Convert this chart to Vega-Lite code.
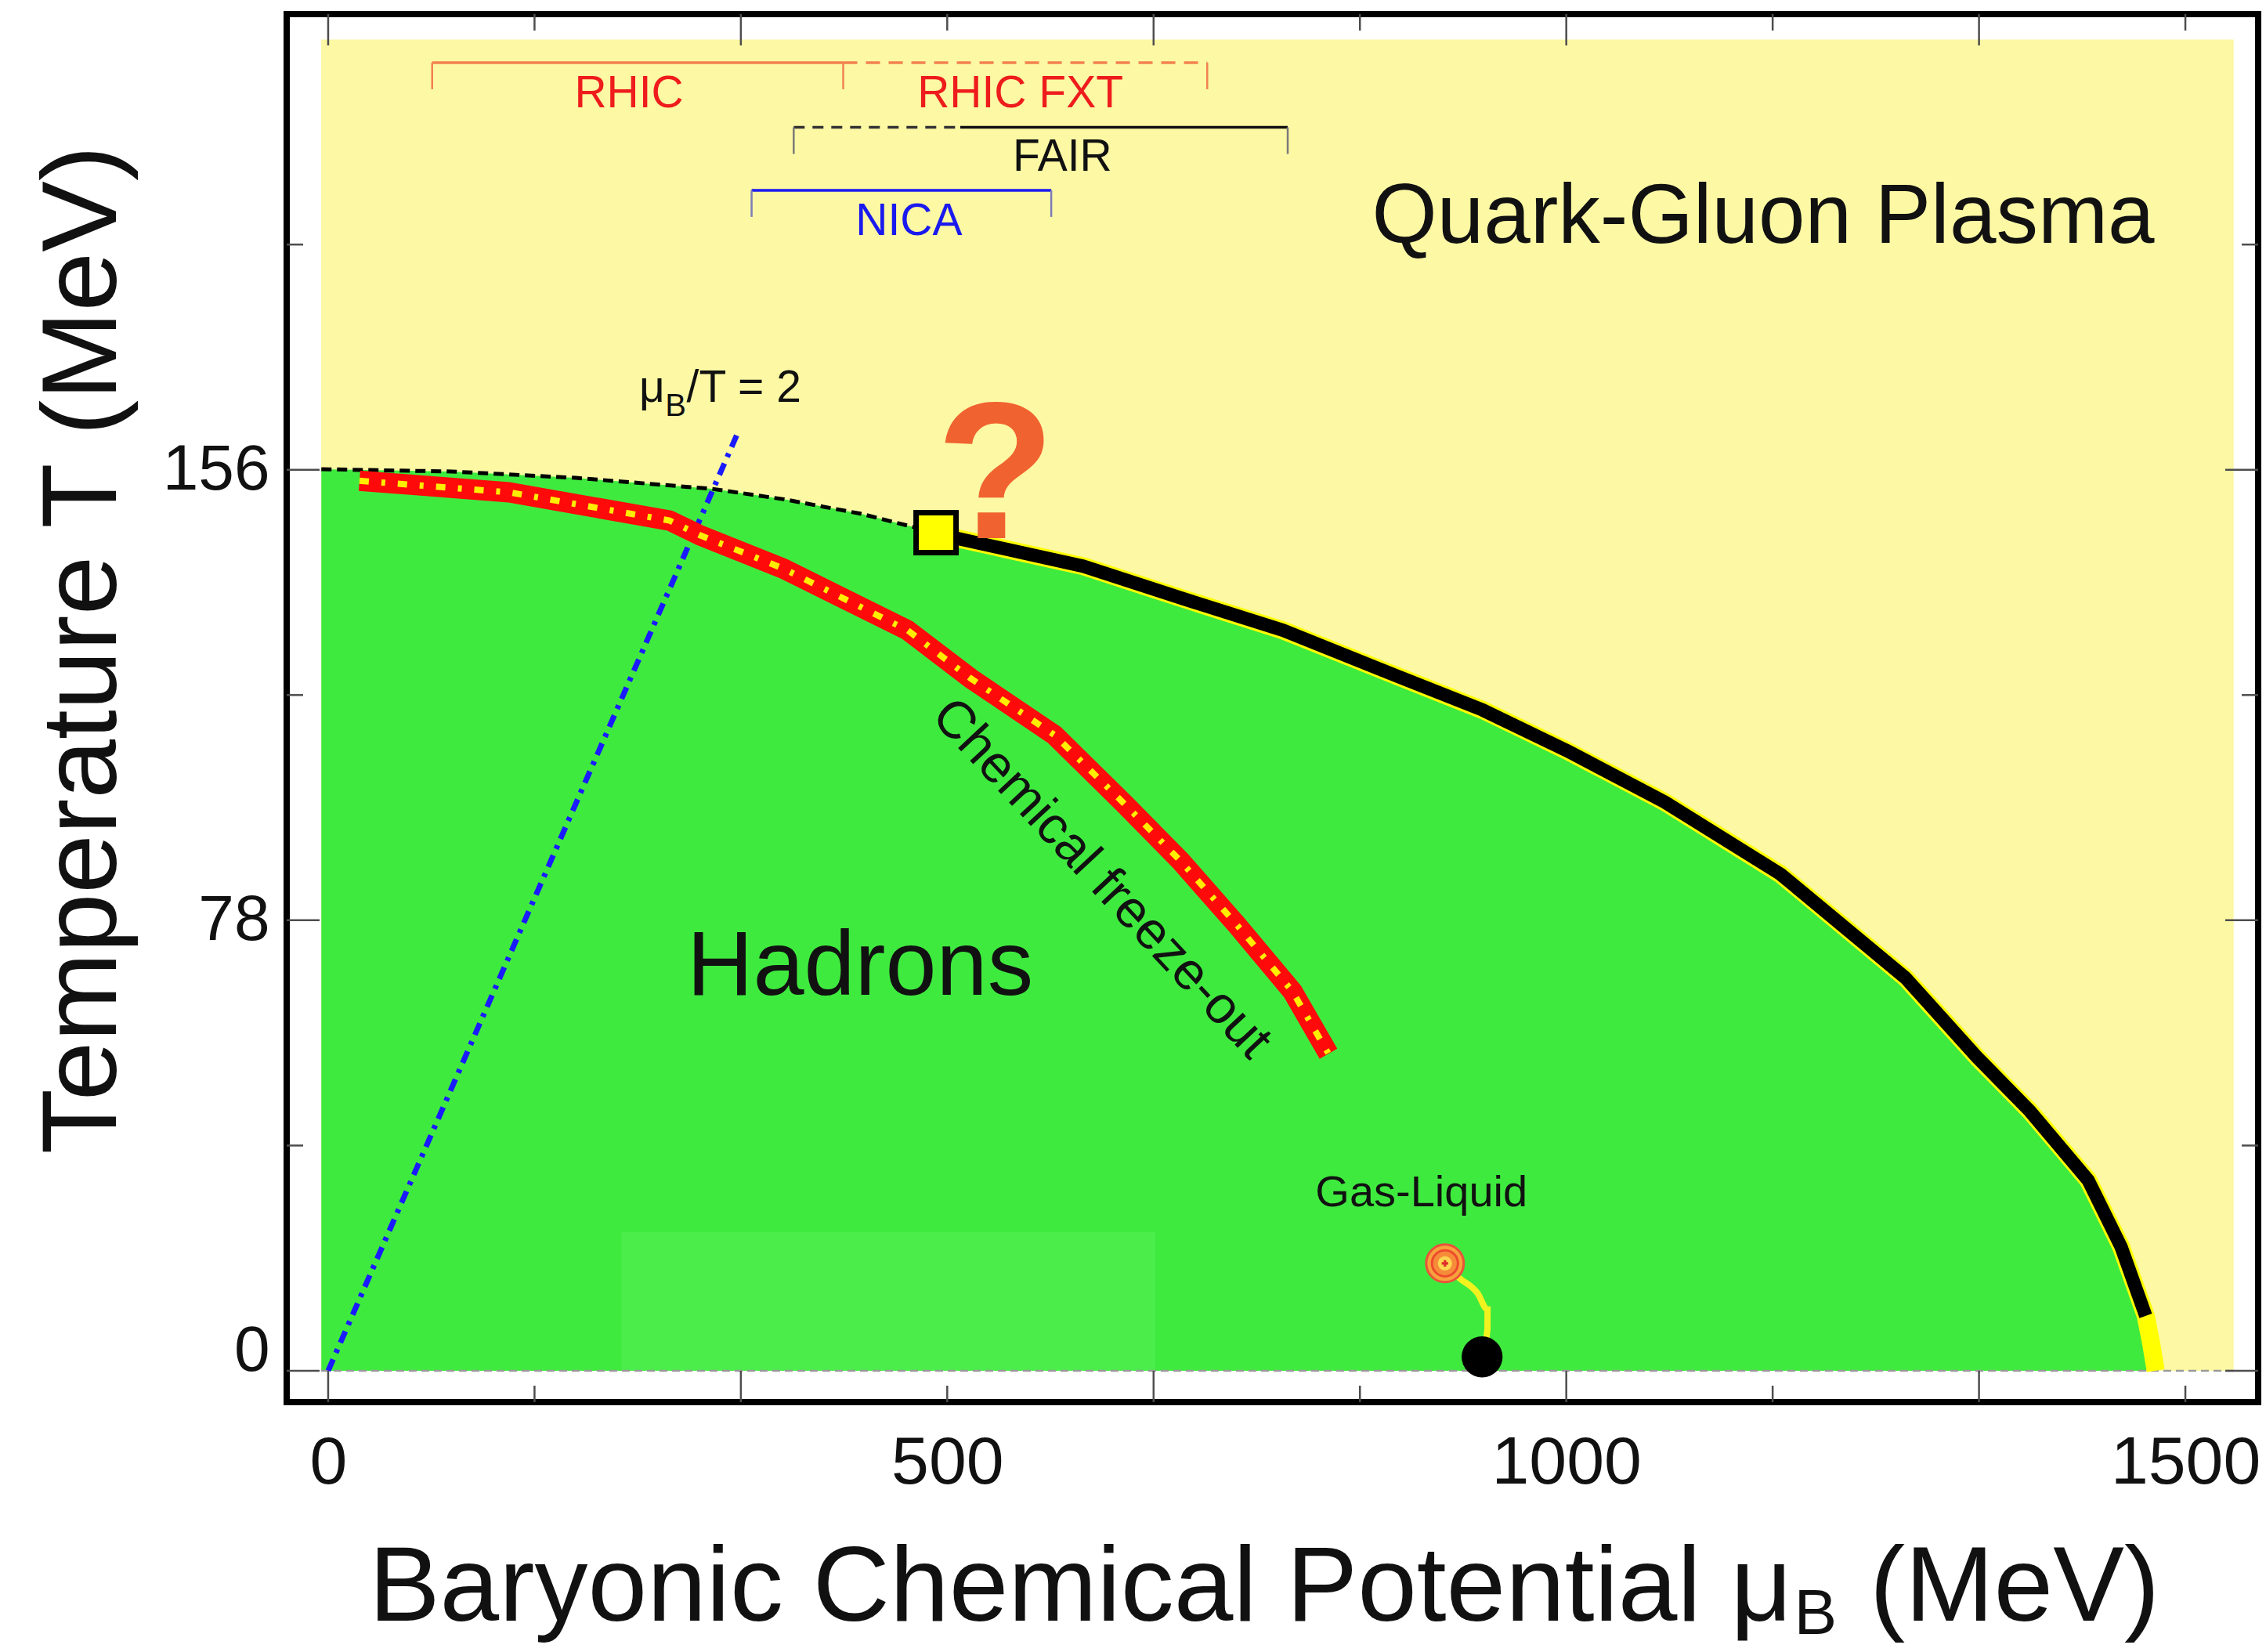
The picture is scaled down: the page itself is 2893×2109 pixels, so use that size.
{
  "$schema": "https://vega.github.io/schema/vega-lite/v6.json",
  "width": 2517,
  "height": 1772,
  "autosize": {"type": "none"},
  "padding": {"left": 366, "top": 18, "right": 10, "bottom": 319},
  "background": "#ffffff",
  "config": {
    "view": {"stroke": "#000000", "strokeWidth": 8},
    "font": "Liberation Sans"
  },
  "resolve": {"scale": {"color": "independent", "strokeDash": "independent", "strokeWidth": "independent"}},
  "datasets": {
    "phaseRegion": [{"phase": "Quark-Gluon Plasma", "mu1": -5.7, "mu2": 1539, "T1": 0, "T2": 230.5}],
    "lightPatch": [{"mu1": 237, "mu2": 668, "T1": 0, "T2": 24}],
    "boundary": [
      {"kind": "crossover", "mu": -5.5, "T": 156.1},
      {"kind": "crossover", "mu": 100, "T": 155.7},
      {"kind": "crossover", "mu": 200, "T": 154.6},
      {"kind": "crossover", "mu": 310, "T": 152.7},
      {"kind": "crossover", "mu": 368, "T": 150.9},
      {"kind": "crossover", "mu": 430, "T": 148.4},
      {"kind": "crossover", "mu": 491, "T": 145.1},
      {"kind": "firstOrder", "mu": 491, "T": 145.1},
      {"kind": "firstOrder", "mu": 508.6, "T": 144.1},
      {"kind": "firstOrder", "mu": 609.9, "T": 139.3},
      {"kind": "firstOrder", "mu": 690.2, "T": 133.7},
      {"kind": "firstOrder", "mu": 771.2, "T": 128.2},
      {"kind": "firstOrder", "mu": 851.5, "T": 121.3},
      {"kind": "firstOrder", "mu": 932.5, "T": 114.4},
      {"kind": "firstOrder", "mu": 1000.2, "T": 107.4},
      {"kind": "firstOrder", "mu": 1079.3, "T": 98.5},
      {"kind": "firstOrder", "mu": 1172.9, "T": 86.0},
      {"kind": "firstOrder", "mu": 1274.1, "T": 68.0},
      {"kind": "firstOrder", "mu": 1331.7, "T": 54.3},
      {"kind": "firstOrder", "mu": 1374.7, "T": 44.9},
      {"kind": "firstOrder", "mu": 1421.5, "T": 33.0},
      {"kind": "firstOrder", "mu": 1448, "T": 21.5},
      {"kind": "firstOrder", "mu": 1468, "T": 9.5},
      {"kind": "end", "mu": 1468, "T": 9.5},
      {"kind": "end", "mu": 1472.5, "T": 4.6},
      {"kind": "end", "mu": 1476, "T": 0}
    ],
    "freezeout": [
      {"mu": 25.3, "T": 154.1},
      {"mu": 146.1, "T": 152.1},
      {"mu": 275.8, "T": 147.2},
      {"mu": 299.9, "T": 144.7},
      {"mu": 367.6, "T": 138.9},
      {"mu": 468.1, "T": 128.2},
      {"mu": 518.8, "T": 119.9},
      {"mu": 586.5, "T": 110.1},
      {"mu": 643.4, "T": 98.1},
      {"mu": 688.3, "T": 88.3},
      {"mu": 733.9, "T": 77.2},
      {"mu": 778.8, "T": 65.7},
      {"mu": 807.9, "T": 54.9}
    ],
    "muOverT2": [{"mu": 0, "T": 0}, {"mu": 330, "T": 162}],
    "zeroLine": [{"mu": -5.7, "T": 0}, {"mu": 1539, "T": 0}],
    "criticalPoint": [{"mu": 491, "T": 145.1}],
    "gasLiquidCP": [{"mu": 902, "T": 18.6}],
    "gasLiquidPath": [
      {"mu": 902, "T": 18.6},
      {"mu": 912.3, "T": 16.3},
      {"mu": 928.4, "T": 13.4},
      {"mu": 936.4, "T": 10.6},
      {"mu": 936.3, "T": 7.2},
      {"mu": 932, "T": 2.4}
    ],
    "nuclearMatter": [{"mu": 932, "T": 2.4}],
    "brackets": [
      {"name": "RHIC", "mu1": 84, "mu2": 416, "T": 226.5},
      {"name": "RHIC FXT", "mu1": 416, "mu2": 710, "T": 226.5},
      {"name": "FAIR planned", "mu1": 376, "mu2": 510.5, "T": 215.3},
      {"name": "FAIR", "mu1": 510.5, "mu2": 775, "T": 215.3},
      {"name": "NICA", "mu1": 342, "mu2": 584, "T": 204.4}
    ],
    "bracketEnds": [
      {"name": "RHIC", "mu": 84, "T": 226.5},
      {"name": "RHIC", "mu": 416, "T": 226.5},
      {"name": "RHIC", "mu": 710, "T": 226.5},
      {"name": "FAIR", "mu": 376, "T": 215.3},
      {"name": "FAIR", "mu": 775, "T": 215.3},
      {"name": "NICA", "mu": 342, "T": 204.4},
      {"name": "NICA", "mu": 584, "T": 204.4}
    ],
    "bracketLabels": [
      {"name": "RHIC", "mu": 243, "T": 218.7},
      {"name": "RHIC FXT", "mu": 559, "T": 218.7},
      {"name": "FAIR", "mu": 593, "T": 207.8},
      {"name": "NICA", "mu": 469, "T": 196.7}
    ],
    "muTicks": [
      {"v": 0, "long": true},
      {"v": 166.67, "long": false},
      {"v": 333.33, "long": true},
      {"v": 500, "long": false},
      {"v": 666.67, "long": true},
      {"v": 833.33, "long": false},
      {"v": 1000, "long": true},
      {"v": 1166.67, "long": false},
      {"v": 1333.33, "long": true},
      {"v": 1500, "long": false}
    ],
    "TTicks": [
      {"v": 0, "long": true},
      {"v": 39, "long": false},
      {"v": 78, "long": true},
      {"v": 117, "long": false},
      {"v": 156, "long": true},
      {"v": 195, "long": false}
    ]
  },
  "layer": [
    {
      "data": {"name": "phaseRegion"},
      "mark": {"type": "rect", "color": "#fcf8a4"},
      "encoding": {
        "x": {
          "field": "mu1", "type": "quantitative",
          "scale": {"domain": [-33.5, 1558.8], "nice": false, "zero": false},
          "axis": {
            "values": [0, 500, 1000, 1500], "format": "d",
            "ticks": false, "domain": false, "grid": false,
            "labelFont": "Liberation Sans", "labelFontSize": 86, "labelColor": "#111111",
            "labelPadding": 35, "labelFlush": false, "labelOverlap": false, "labelLimit": 0,
            "title": null
          }
        },
        "x2": {"field": "mu2"},
        "y": {
          "field": "T1", "type": "quantitative",
          "scale": {"domain": [-5.43, 234.9], "nice": false, "zero": false},
          "axis": {
            "values": [0, 78, 156], "format": "d",
            "ticks": false, "domain": false, "grid": false,
            "labelFont": "Liberation Sans", "labelFontSize": 82, "labelColor": "#111111",
            "labelPadding": 22, "labelFlush": false, "labelOverlap": false, "labelLimit": 0,
            "labelBaseline": {"condition": {"test": "datum.value === 0", "value": "alphabetic"}, "value": "middle"},
            "title": "Temperature T (MeV)",
            "titleFont": "Liberation Sans", "titleFontSize": 136, "titleFontWeight": "normal",
            "titleColor": "#111111", "titleAngle": -90, "titleX": -219, "titleY": 811,
            "titleAlign": "center", "titleBaseline": "alphabetic", "titleLimit": 0
          }
        },
        "y2": {"field": "T2"}
      }
    },
    {
      "data": {"name": "boundary"},
      "mark": {"type": "area", "color": "#3fea3f", "opacity": 1},
      "encoding": {
        "x": {"field": "mu", "type": "quantitative"},
        "y": {"field": "T", "type": "quantitative"},
        "y2": {"datum": 0}
      }
    },
    {
      "data": {"name": "lightPatch"},
      "mark": {"type": "rect", "color": "#4bed4b"},
      "encoding": {
        "x": {"field": "mu1", "type": "quantitative"},
        "x2": {"field": "mu2"},
        "y": {"field": "T1", "type": "quantitative"},
        "y2": {"field": "T2"}
      }
    },
    {
      "data": {"name": "zeroLine"},
      "mark": {"type": "line", "color": "#9a9a9a", "strokeWidth": 2.5, "strokeDash": [10, 6]},
      "encoding": {
        "x": {"field": "mu", "type": "quantitative"},
        "y": {"field": "T", "type": "quantitative"}
      }
    },
    {
      "data": {"name": "muOverT2"},
      "mark": {"type": "line", "color": "#1a1aff", "strokeWidth": 7, "strokeDash": [16, 9, 5, 9]},
      "encoding": {
        "x": {"field": "mu", "type": "quantitative"},
        "y": {"field": "T", "type": "quantitative"}
      }
    },
    {
      "data": {"name": "boundary"},
      "transform": [{"filter": "datum.kind === 'crossover'"}],
      "mark": {"type": "line", "color": "#000000", "strokeWidth": 5, "strokeDash": [13, 7]},
      "encoding": {
        "x": {"field": "mu", "type": "quantitative"},
        "y": {"field": "T", "type": "quantitative"}
      }
    },
    {
      "data": {"name": "boundary"},
      "transform": [{"filter": "datum.kind !== 'crossover'"}],
      "mark": {"type": "line", "color": "#ffff00", "strokeWidth": 23, "strokeCap": "butt", "strokeJoin": "round"},
      "encoding": {
        "x": {"field": "mu", "type": "quantitative"},
        "y": {"field": "T", "type": "quantitative"}
      }
    },
    {
      "data": {"name": "boundary"},
      "transform": [{"filter": "datum.kind === 'firstOrder'"}],
      "mark": {"type": "line", "color": "#000000", "strokeWidth": 17, "strokeCap": "butt", "strokeJoin": "round"},
      "encoding": {
        "x": {"field": "mu", "type": "quantitative"},
        "y": {"field": "T", "type": "quantitative"}
      }
    },
    {
      "data": {"name": "freezeout"},
      "mark": {"type": "line", "color": "#ff0a0a", "strokeWidth": 26, "strokeCap": "butt", "strokeJoin": "round"},
      "encoding": {
        "x": {"field": "mu", "type": "quantitative"},
        "y": {"field": "T", "type": "quantitative"}
      }
    },
    {
      "data": {"name": "freezeout"},
      "mark": {"type": "line", "color": "#ffee00", "strokeWidth": 8, "strokeCap": "butt", "strokeDash": [12, 16, 5, 16]},
      "encoding": {
        "x": {"field": "mu", "type": "quantitative"},
        "y": {"field": "T", "type": "quantitative"}
      }
    },
    {
      "data": {"name": "criticalPoint"},
      "mark": {"type": "point", "shape": "square", "size": 2600, "fill": "#ffff00", "stroke": "#000000", "strokeWidth": 7, "opacity": 1, "fillOpacity": 1},
      "encoding": {
        "x": {"field": "mu", "type": "quantitative"},
        "y": {"field": "T", "type": "quantitative"}
      }
    },
    {
      "data": {"values": [{"label": "?", "mu": 539, "T": 144.1}]},
      "mark": {"type": "text", "font": "Liberation Sans", "fontWeight": "bold", "fontSize": 248, "color": "#f0622f", "align": "center", "baseline": "alphabetic"},
      "encoding": {
        "x": {"field": "mu", "type": "quantitative"},
        "y": {"field": "T", "type": "quantitative"},
        "text": {"field": "label"}
      }
    },
    {
      "data": {"name": "gasLiquidPath"},
      "mark": {"type": "line", "color": "#f2f21e", "strokeWidth": 8, "interpolate": "monotone"},
      "encoding": {
        "x": {"field": "mu", "type": "quantitative"},
        "y": {"field": "T", "type": "quantitative"},
        "order": {"field": "T", "sort": "descending"}
      }
    },
    {
      "data": {"name": "gasLiquidCP"},
      "mark": {"type": "point", "shape": "circle", "size": 2300, "fill": "#f7a23c", "stroke": "#e9543a", "strokeWidth": 3, "opacity": 1, "fillOpacity": 1},
      "encoding": {
        "x": {"field": "mu", "type": "quantitative"},
        "y": {"field": "T", "type": "quantitative"}
      }
    },
    {
      "data": {"name": "gasLiquidCP"},
      "mark": {"type": "point", "shape": "circle", "size": 1100, "fill": "#f68c3a", "stroke": "#ee4b2e", "strokeWidth": 3, "opacity": 1, "fillOpacity": 1},
      "encoding": {
        "x": {"field": "mu", "type": "quantitative"},
        "y": {"field": "T", "type": "quantitative"}
      }
    },
    {
      "data": {"name": "gasLiquidCP"},
      "mark": {"type": "point", "shape": "circle", "size": 330, "fill": "#fcd650", "strokeWidth": 0, "opacity": 1, "fillOpacity": 1},
      "encoding": {
        "x": {"field": "mu", "type": "quantitative"},
        "y": {"field": "T", "type": "quantitative"}
      }
    },
    {
      "data": {"name": "gasLiquidCP"},
      "mark": {"type": "point", "shape": "cross", "size": 70, "fill": "#e0302a", "strokeWidth": 0, "opacity": 1, "fillOpacity": 1},
      "encoding": {
        "x": {"field": "mu", "type": "quantitative"},
        "y": {"field": "T", "type": "quantitative"}
      }
    },
    {
      "data": {"name": "nuclearMatter"},
      "mark": {"type": "point", "shape": "circle", "size": 2734, "fill": "#000000", "strokeWidth": 0, "opacity": 1, "fillOpacity": 1},
      "encoding": {
        "x": {"field": "mu", "type": "quantitative"},
        "y": {"field": "T", "type": "quantitative"}
      }
    },
    {
      "data": {"values": [{"label": "Gas-Liquid", "mu": 883, "T": 28.5}]},
      "mark": {"type": "text", "font": "Liberation Sans", "fontSize": 56, "color": "#111111", "align": "center", "baseline": "alphabetic"},
      "encoding": {
        "x": {"field": "mu", "type": "quantitative"},
        "y": {"field": "T", "type": "quantitative"},
        "text": {"field": "label"}
      }
    },
    {
      "data": {"name": "brackets"},
      "mark": {"type": "rule"},
      "encoding": {
        "x": {"field": "mu1", "type": "quantitative"},
        "x2": {"field": "mu2"},
        "y": {"field": "T", "type": "quantitative"},
        "color": {"field": "name", "type": "nominal", "legend": null,
          "scale": {"domain": ["RHIC", "RHIC FXT", "FAIR planned", "FAIR", "NICA"], "range": ["#f2824f", "#f2824f", "#333333", "#111111", "#1a1aee"]}},
        "strokeDash": {"field": "name", "type": "nominal", "legend": null,
          "scale": {"domain": ["RHIC", "RHIC FXT", "FAIR planned", "FAIR", "NICA"], "range": [[1, 0], [18, 11], [14, 10], [1, 0], [1, 0]]}},
        "strokeWidth": {"field": "name", "type": "ordinal", "legend": null,
          "scale": {"domain": ["RHIC", "RHIC FXT", "FAIR planned", "FAIR", "NICA"], "range": [3.5, 3.5, 3.5, 5, 6]}}
      }
    },
    {
      "data": {"name": "bracketEnds"},
      "mark": {"type": "rule", "strokeWidth": 2.5, "y2Offset": 34},
      "encoding": {
        "x": {"field": "mu", "type": "quantitative"},
        "y": {"field": "T", "type": "quantitative"},
        "y2": {"field": "T"},
        "color": {"field": "name", "type": "nominal", "legend": null,
          "scale": {"domain": ["RHIC", "FAIR", "NICA"], "range": ["#f2824f", "#7a7a7a", "#7c7cb8"]}}
      }
    },
    {
      "data": {"name": "bracketLabels"},
      "mark": {"type": "text", "font": "Liberation Sans", "fontSize": 57, "align": "center", "baseline": "alphabetic"},
      "encoding": {
        "x": {"field": "mu", "type": "quantitative"},
        "y": {"field": "T", "type": "quantitative"},
        "text": {"field": "name"},
        "color": {"field": "name", "type": "nominal", "legend": null,
          "scale": {"domain": ["RHIC", "RHIC FXT", "FAIR", "NICA"], "range": ["#ee1c1c", "#ee1c1c", "#111111", "#1a1aee"]}}
      }
    },
    {
      "data": {"values": [{"label": "Quark-Gluon Plasma", "mu": 1159, "T": 195.3}]},
      "mark": {"type": "text", "font": "Liberation Sans", "fontSize": 107, "color": "#111111", "align": "center", "baseline": "alphabetic"},
      "encoding": {
        "x": {"field": "mu", "type": "quantitative"},
        "y": {"field": "T", "type": "quantitative"},
        "text": {"field": "label"}
      }
    },
    {
      "data": {"values": [{"label": "Hadrons", "mu": 429.6, "T": 65.1}]},
      "mark": {"type": "text", "font": "Liberation Sans", "fontSize": 117, "color": "#111111", "align": "center", "baseline": "alphabetic"},
      "encoding": {
        "x": {"field": "mu", "type": "quantitative"},
        "y": {"field": "T", "type": "quantitative"},
        "text": {"field": "label"}
      }
    },
    {
      "data": {"values": [{"label": "Chemical freeze-out", "mu": 624.5, "T": 85.2}]},
      "mark": {"type": "text", "font": "Liberation Sans", "fontSize": 67, "color": "#111111", "align": "center", "baseline": "middle", "angle": 47},
      "encoding": {
        "x": {"field": "mu", "type": "quantitative"},
        "y": {"field": "T", "type": "quantitative"},
        "text": {"field": "label"}
      }
    },
    {
      "data": {"values": [{"label": "μ", "mu": 251.2, "T": 167.8}]},
      "mark": {"type": "text", "font": "Liberation Sans", "fontSize": 57, "color": "#111111", "align": "left", "baseline": "alphabetic"},
      "encoding": {
        "x": {"field": "mu", "type": "quantitative"},
        "y": {"field": "T", "type": "quantitative"},
        "text": {"field": "label"}
      }
    },
    {
      "data": {"values": [{"label": "B", "mu": 272.2, "T": 165.3}]},
      "mark": {"type": "text", "font": "Liberation Sans", "fontSize": 40, "color": "#111111", "align": "left", "baseline": "alphabetic"},
      "encoding": {
        "x": {"field": "mu", "type": "quantitative"},
        "y": {"field": "T", "type": "quantitative"},
        "text": {"field": "label"}
      }
    },
    {
      "data": {"values": [{"label": "/T = 2", "mu": 289.5, "T": 167.8}]},
      "mark": {"type": "text", "font": "Liberation Sans", "fontSize": 57, "color": "#111111", "align": "left", "baseline": "alphabetic"},
      "encoding": {
        "x": {"field": "mu", "type": "quantitative"},
        "y": {"field": "T", "type": "quantitative"},
        "text": {"field": "label"}
      }
    },
    {
      "data": {"name": "muTicks"},
      "transform": [{"filter": "datum.long"}],
      "mark": {"type": "rule", "color": "#4d4d4d", "strokeWidth": 2.5, "y2Offset": -40},
      "encoding": {
        "x": {"field": "v", "type": "quantitative"},
        "y": {"datum": -5.43},
        "y2": {"datum": -5.43}
      }
    },
    {
      "data": {"name": "muTicks"},
      "transform": [{"filter": "!datum.long"}],
      "mark": {"type": "rule", "color": "#4d4d4d", "strokeWidth": 2.5, "y2Offset": -21},
      "encoding": {
        "x": {"field": "v", "type": "quantitative"},
        "y": {"datum": -5.43},
        "y2": {"datum": -5.43}
      }
    },
    {
      "data": {"name": "muTicks"},
      "transform": [{"filter": "datum.long"}],
      "mark": {"type": "rule", "color": "#4d4d4d", "strokeWidth": 2.5, "y2Offset": 40},
      "encoding": {
        "x": {"field": "v", "type": "quantitative"},
        "y": {"datum": 234.9},
        "y2": {"datum": 234.9}
      }
    },
    {
      "data": {"name": "muTicks"},
      "transform": [{"filter": "!datum.long"}],
      "mark": {"type": "rule", "color": "#4d4d4d", "strokeWidth": 2.5, "y2Offset": 21},
      "encoding": {
        "x": {"field": "v", "type": "quantitative"},
        "y": {"datum": 234.9},
        "y2": {"datum": 234.9}
      }
    },
    {
      "data": {"name": "TTicks"},
      "transform": [{"filter": "datum.long"}],
      "mark": {"type": "rule", "color": "#4d4d4d", "strokeWidth": 2.5, "x2Offset": 42},
      "encoding": {
        "y": {"field": "v", "type": "quantitative"},
        "x": {"datum": -33.5},
        "x2": {"datum": -33.5}
      }
    },
    {
      "data": {"name": "TTicks"},
      "transform": [{"filter": "!datum.long"}],
      "mark": {"type": "rule", "color": "#4d4d4d", "strokeWidth": 2.5, "x2Offset": 21},
      "encoding": {
        "y": {"field": "v", "type": "quantitative"},
        "x": {"datum": -33.5},
        "x2": {"datum": -33.5}
      }
    },
    {
      "data": {"name": "TTicks"},
      "transform": [{"filter": "datum.long"}],
      "mark": {"type": "rule", "color": "#4d4d4d", "strokeWidth": 2.5, "x2Offset": -42},
      "encoding": {
        "y": {"field": "v", "type": "quantitative"},
        "x": {"datum": 1558.8},
        "x2": {"datum": 1558.8}
      }
    },
    {
      "data": {"name": "TTicks"},
      "transform": [{"filter": "!datum.long"}],
      "mark": {"type": "rule", "color": "#4d4d4d", "strokeWidth": 2.5, "x2Offset": -21},
      "encoding": {
        "y": {"field": "v", "type": "quantitative"},
        "x": {"datum": 1558.8},
        "x2": {"datum": 1558.8}
      }
    },
    {
      "data": {"values": [{"label": "Baryonic Chemical Potential μ", "mu": 1182.3, "T": -43.3}]},
      "mark": {"type": "text", "font": "Liberation Sans", "fontSize": 136, "color": "#111111", "align": "right", "baseline": "alphabetic"},
      "encoding": {
        "x": {"field": "mu", "type": "quantitative"},
        "y": {"field": "T", "type": "quantitative"},
        "text": {"field": "label"}
      }
    },
    {
      "data": {"values": [{"label": "B", "mu": 1184, "T": -45.6}]},
      "mark": {"type": "text", "font": "Liberation Sans", "fontSize": 82, "color": "#111111", "align": "left", "baseline": "alphabetic"},
      "encoding": {
        "x": {"field": "mu", "type": "quantitative"},
        "y": {"field": "T", "type": "quantitative"},
        "text": {"field": "label"}
      }
    },
    {
      "data": {"values": [{"label": "(MeV)", "mu": 1245, "T": -43.3}]},
      "mark": {"type": "text", "font": "Liberation Sans", "fontSize": 136, "color": "#111111", "align": "left", "baseline": "alphabetic"},
      "encoding": {
        "x": {"field": "mu", "type": "quantitative"},
        "y": {"field": "T", "type": "quantitative"},
        "text": {"field": "label"}
      }
    }
  ]
}
